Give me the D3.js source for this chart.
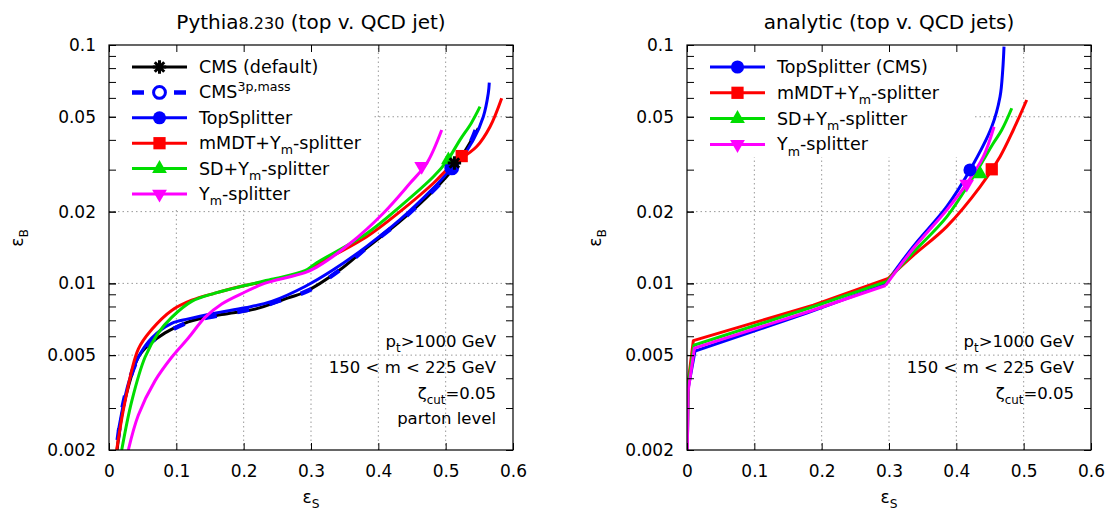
<!DOCTYPE html>
<html>
<head>
<meta charset="utf-8">
<script src="https://cdn.jsdelivr.net/npm/d3@7"></script>
<style>
  body { margin: 0; background: #fff; }
  svg { display: block; font-family: "DejaVu Sans", sans-serif; }
</style>
</head>
<body>
<div id="chart"></div>
<script>
// ---- axes ----
const X_TICKS = [0, 0.1, 0.2, 0.3, 0.4, 0.5, 0.6];
const X_GRID  = [0.1, 0.2, 0.3, 0.4, 0.5];
const Y_TICKS = [0.002, 0.005, 0.01, 0.02, 0.05, 0.1];
const Y_GRID  = [0.005, 0.01, 0.02, 0.05];
const Y_MINOR = [0.002, 0.003, 0.004, 0.005, 0.006, 0.007, 0.008, 0.009,
                 0.01, 0.02, 0.03, 0.04, 0.05, 0.06, 0.07, 0.08, 0.09, 0.1];

// ---- left panel: Pythia (eps_S, eps_B) ----
const pyCmsDefault = [[0.012,0.002],[0.02,0.0029],[0.03,0.0038],[0.0435,0.0049],[0.0584,0.0055],
  [0.0832,0.0062],[0.1178,0.0069],[0.1674,0.0074],[0.2168,0.0078],[0.2663,0.0087],[0.2911,0.0092],
  [0.3431,0.0114],[0.3827,0.0141],[0.4322,0.0182],[0.4817,0.0245],[0.5139,0.031],[0.5485,0.0447]];
const pyCms3p = [[0.013,0.0022],[0.02,0.003],[0.03,0.0039],[0.044,0.0049],[0.06,0.0056],
  [0.085,0.0062],[0.12,0.0069],[0.17,0.0074],[0.22,0.0079],[0.265,0.0087],[0.295,0.0093],
  [0.345,0.0115],[0.385,0.0143],[0.435,0.0185],[0.482,0.0246],[0.512,0.0305],[0.535,0.038],[0.546,0.045]];
const pyTopSplitter = [[0.0138,0.0024],[0.0287,0.0038],[0.0435,0.0049],[0.0634,0.0059],[0.0931,0.0068],
  [0.1178,0.0071],[0.1574,0.0075],[0.202,0.0079],[0.2416,0.0084],[0.2911,0.0097],[0.3331,0.0114],
  [0.3827,0.0143],[0.4322,0.0185],[0.4817,0.0251],[0.5065,0.0299],[0.5213,0.0329],[0.5411,0.04],
  [0.5559,0.05],[0.5633,0.0627],[0.5648,0.0695]];
const pyMmdt = [[0.0114,0.002],[0.0238,0.0032],[0.0435,0.0053],[0.0634,0.0064],[0.0931,0.0077],
  [0.1228,0.0085],[0.1574,0.0091],[0.202,0.0098],[0.2416,0.0103],[0.2911,0.0112],[0.3085,0.012],
  [0.3827,0.0157],[0.4322,0.02],[0.4817,0.0263],[0.5065,0.0309],[0.5461,0.0375],[0.5659,0.0454],[0.5832,0.0598]];
const pySd = [[0.0189,0.002],[0.0337,0.0032],[0.0535,0.0049],[0.0732,0.0062],[0.0931,0.0072],
  [0.1228,0.0084],[0.1574,0.0091],[0.202,0.0098],[0.2416,0.0104],[0.2911,0.0113],[0.3085,0.0122],
  [0.3827,0.0162],[0.4322,0.021],[0.4817,0.028],[0.5016,0.0325],[0.5213,0.04],[0.538,0.047],[0.551,0.0551]];
const pyYm = [[0.0287,0.002],[0.0435,0.0028],[0.0683,0.0039],[0.0931,0.0049],[0.1178,0.0059],
  [0.1426,0.0072],[0.1674,0.0082],[0.202,0.0092],[0.227,0.0099],[0.2416,0.0102],[0.2911,0.0111],
  [0.3085,0.0117],[0.3579,0.0147],[0.4074,0.0197],[0.447,0.0263],[0.4719,0.0319],[0.4941,0.044]];
// working points
const pyMarkers = [[0.513,0.032],[0.509,0.0305],[0.509,0.0305],[0.5238,0.0342],[0.504,0.0329],[0.4644,0.031]];
const pyLabels = ["CMS (default)", "CMS^3p,mass", "TopSplitter", "mMDT+Y_m-splitter", "SD+Y_m-splitter", "Y_m-splitter"];

// ---- right panel: analytic ----
const anTopSplitter = [[0.0005,0.002],[0.0015,0.0036],[0.0119,0.0052],[0.1778,0.0075],[0.2941,0.0099],
  [0.3361,0.0143],[0.3857,0.021],[0.4203,0.0299],[0.4526,0.0454],[0.4649,0.0607],[0.4689,0.0785],[0.4708,0.0984]];
const anMmdt = [[0.0005,0.002],[0.0015,0.0038],[0.0094,0.00575],[0.1876,0.0081],[0.299,0.0105],
  [0.3361,0.0131],[0.3857,0.0173],[0.4352,0.0254],[0.4649,0.034],[0.4846,0.044],[0.5045,0.0588]];
const anSd = [[0.0005,0.002],[0.0015,0.0037],[0.0102,0.0055],[0.183,0.0079],[0.297,0.0102],
  [0.3361,0.0135],[0.3857,0.019],[0.4252,0.028],[0.4549,0.0387],[0.4674,0.044],[0.4823,0.0543]];
const anYm = [[0.0005,0.002],[0.0015,0.0035],[0.011,0.00535],[0.18,0.0076],[0.295,0.0098],
  [0.3361,0.014],[0.3857,0.0203],[0.4154,0.0262],[0.4401,0.034],[0.456,0.0454]];
const anMarkers = [[0.4203,0.0299],[0.4526,0.0301],[0.4352,0.0288],[0.4154,0.0261]];
const anLabels = ["TopSplitter (CMS)", "mMDT+Y_m-splitter", "SD+Y_m-splitter", "Y_m-splitter"];

const notes = ["p_t>1000 GeV", "150 < m < 225 GeV", "ζ_cut=0.05", "parton level"];

/* ---------- helpers ---------- */
const BLUE = "#0000ff", RED = "#ff0000", GREEN = "#00dd00", MAGENTA = "#ff00ff";

// gnuplot-like "*" point
const symbolStar = {
  draw(ctx, size) {
    const r = Math.sqrt(size) / 2;
    for (let k = 0; k < 4; k++) {
      const a = k * Math.PI / 4;
      ctx.moveTo(-r * Math.cos(a), -r * Math.sin(a));
      ctx.lineTo(r * Math.cos(a), r * Math.sin(a));
    }
  }
};

// text with _sub and ^sup parts
function richText(sel, str, fs) {
  const m = str.match(/^([^_^]*)([_^])([^ =>-]+(?:,[a-z]+)?)(.*)$/);
  if (!m) { sel.text(str); return; }
  const [, a, kind, s, rest] = m;
  const shift = kind === "_" ? fs * 0.3 : -fs * 0.45;
  sel.append("tspan").text(a);
  sel.append("tspan").attr("font-size", fs * 0.72).attr("dy", shift).text(s);
  sel.append("tspan").attr("dy", -shift).text(rest);
}

const W = 1107, H = 512;
const Y0 = 450, Y1 = 45;

const svg = d3.select("#chart").append("svg")
  .attr("width", W).attr("height", H);

function drawPanel(p, idx) {
  const x = d3.scaleLinear().domain([0, 0.6]).range([p.left, p.right]);
  const y = d3.scaleLog().domain([0.002, 0.1]).range([Y0, Y1]);
  const g = svg.append("g");

  // grid
  g.append("g").selectAll("line").data(X_GRID).join("line")
    .attr("x1", d => x(d)).attr("x2", d => x(d)).attr("y1", Y0).attr("y2", Y1)
    .attr("stroke", "#999").attr("stroke-dasharray", "1.5,3");
  g.append("g").selectAll("line").data(Y_GRID).join("line")
    .attr("x1", p.left).attr("x2", p.right).attr("y1", d => y(d)).attr("y2", d => y(d))
    .attr("stroke", "#999").attr("stroke-dasharray", "1.5,3");

  // legend box (covers the grid)
  g.append("rect").attr("x", p.left + 1).attr("y", Y1 + 1)
    .attr("width", p.legendW).attr("height", p.legendH).attr("fill", "#fff");

  // curves: straight pieces below p.linearUpTo (analytic), smooth above
  const clipId = "clip" + idx;
  g.append("clipPath").attr("id", clipId).append("rect")
    .attr("x", p.left).attr("y", Y1).attr("width", p.right - p.left).attr("height", Y0 - Y1);
  const straight = d3.line().x(d => x(d[0])).y(d => y(d[1]));
  const smooth = d3.line().x(d => x(d[0])).y(d => y(d[1])).curve(d3.curveCatmullRom.alpha(0.5));
  const cg = g.append("g").attr("clip-path", `url(#${clipId})`);
  p.series.forEach(s => {
    const lo = s.data.filter(d => d[0] <= p.linearUpTo);
    const hi = s.data.slice(Math.max(lo.length - 1, 0));
    const ds = [];
    if (lo.length > 1) ds.push(straight(lo));
    if (hi.length > 1) ds.push(smooth(hi));
    ds.forEach(d => cg.append("path").attr("d", d).attr("fill", "none")
      .attr("stroke", s.color).attr("stroke-width", s.width || 3)
      .attr("stroke-linejoin", "round")
      .attr("stroke-dasharray", s.dash || null));
  });
  p.series.filter(s => !s.top).concat(p.series.filter(s => s.top)).forEach(s => {
    drawMarker(cg, s, x(s.mark[0]), y(s.mark[1]));
  });

  // axes (ticks inward)
  const fs = 17;
  const ax = (gen, tr) => g.append("g").attr("transform", tr).call(gen)
    .call(a => a.select(".domain").remove())
    .attr("font-family", null).attr("font-size", fs);
  ax(d3.axisBottom(x).tickValues(X_TICKS).tickSize(-7).tickPadding(15).tickFormat(d => String(d)),
     `translate(0,${Y0})`);
  ax(d3.axisTop(x).tickValues(X_TICKS).tickSize(-7).tickFormat(""), `translate(0,${Y1})`);
  ax(d3.axisLeft(y).tickValues(Y_TICKS).tickSize(-7).tickPadding(13).tickFormat(d => String(d)),
     `translate(${p.left},0)`);
  ax(d3.axisLeft(y).tickValues(Y_MINOR).tickSize(-7).tickFormat(""), `translate(${p.left},0)`);
  ax(d3.axisRight(y).tickValues(Y_MINOR).tickSize(-7).tickFormat(""), `translate(${p.right},0)`);
  g.selectAll(".tick line").attr("stroke", "#000");
  g.selectAll(".tick text").attr("fill", "#000");

  g.append("rect").attr("x", p.left).attr("y", Y1)
    .attr("width", p.right - p.left).attr("height", Y0 - Y1)
    .attr("fill", "none").attr("stroke", "#000").attr("stroke-width", 1.2);

  // legend
  const lg = g.append("g");
  p.series.forEach((s, i) => {
    const ly = p.legendY + i * p.legendStep;
    lg.append("line").attr("x1", p.left + 23).attr("x2", p.left + 78)
      .attr("y1", ly).attr("y2", ly).attr("stroke", s.color)
      .attr("stroke-width", s.width || 3).attr("stroke-dasharray", s.legendDash || null);
    drawMarker(lg, s, p.left + 50.5, ly);
    const t = lg.append("text").attr("x", p.left + 90).attr("y", ly + 6)
      .attr("font-size", 17.5);
    richText(t, s.label, 17.5);
  });

  // annotations
  p.notes.forEach((n, i) => {
    const t = g.append("text").attr("x", p.right - 17).attr("y", 347 + i * 25.8)
      .attr("text-anchor", "end").attr("font-size", 16.5);
    richText(t, n, 16.5);
  });

  // titles
  const cx = (p.left + p.right) / 2;
  const tt = g.append("text").attr("x", cx).attr("y", 29).attr("text-anchor", "middle").attr("font-size", 20);
  p.title.forEach(([txt, small]) => tt.append("tspan").attr("font-size", small ? 16 : 20).text(txt));

  const xl = g.append("text").attr("x", cx).attr("y", 503).attr("text-anchor", "middle").attr("font-size", 17);
  richText(xl, "ε_S", 17);
  const yl = g.append("text").attr("transform", `translate(${p.left - 86},238) rotate(-90)`)
    .attr("text-anchor", "middle").attr("font-size", 17);
  richText(yl, "ε_B", 17);
}

function drawMarker(sel, s, px, py) {
  const path = d3.symbol().type(s.symbol).size(s.size)();
  sel.append("path").attr("d", path)
    .attr("transform", `translate(${px},${py})` + (s.flip ? " rotate(180)" : ""))
    .attr("fill", s.fill).attr("stroke", s.stroke || "none").attr("stroke-width", s.sw || 0);
}

const left = {
  left: 109, right: 513, legendW: 263, legendH: 161, legendY: 67, legendStep: 25.4, linearUpTo: 0,
  title: [["Pythia", false], ["8.230", true], [" (top v. QCD jet)", false]],
  notes: notes,
  series: [
    { data: pyCmsDefault, color: "#000", mark: pyMarkers[0], label: pyLabels[0], top: true,
      symbol: symbolStar, size: 180, fill: "none", stroke: "#000", sw: 3 },
    { data: pyCms3p, color: BLUE, width: 4.5, dash: "12,21", legendDash: "12,9", mark: pyMarkers[1], label: pyLabels[1],
      symbol: d3.symbolCircle, size: 110, fill: "#fff", stroke: BLUE, sw: 3 },
    { data: pyTopSplitter, color: BLUE, mark: pyMarkers[2], label: pyLabels[2],
      symbol: d3.symbolCircle, size: 135, fill: BLUE },
    { data: pyMmdt, color: RED, mark: pyMarkers[3], label: pyLabels[3],
      symbol: d3.symbolSquare, size: 150, fill: RED },
    { data: pySd, color: GREEN, mark: pyMarkers[4], label: pyLabels[4],
      symbol: d3.symbolTriangle, size: 95, fill: GREEN },
    { data: pyYm, color: MAGENTA, mark: pyMarkers[5], label: pyLabels[5],
      symbol: d3.symbolTriangle, size: 95, fill: MAGENTA, flip: true }
  ]
};

const right = {
  left: 687, right: 1091, legendW: 287, legendH: 111, legendY: 67, legendStep: 25.8, linearUpTo: 0.31,
  title: [["analytic (top v. QCD jets)", false]],
  notes: notes.slice(0, 3),
  series: [
    { data: anTopSplitter, color: BLUE, mark: anMarkers[0], label: anLabels[0],
      symbol: d3.symbolCircle, size: 135, fill: BLUE },
    { data: anMmdt, color: RED, mark: anMarkers[1], label: anLabels[1],
      symbol: d3.symbolSquare, size: 150, fill: RED },
    { data: anSd, color: GREEN, mark: anMarkers[2], label: anLabels[2],
      symbol: d3.symbolTriangle, size: 95, fill: GREEN },
    { data: anYm, color: MAGENTA, mark: anMarkers[3], label: anLabels[3],
      symbol: d3.symbolTriangle, size: 95, fill: MAGENTA, flip: true }
  ]
};

drawPanel(left, 0);
drawPanel(right, 1);
</script>
</body>
</html>
